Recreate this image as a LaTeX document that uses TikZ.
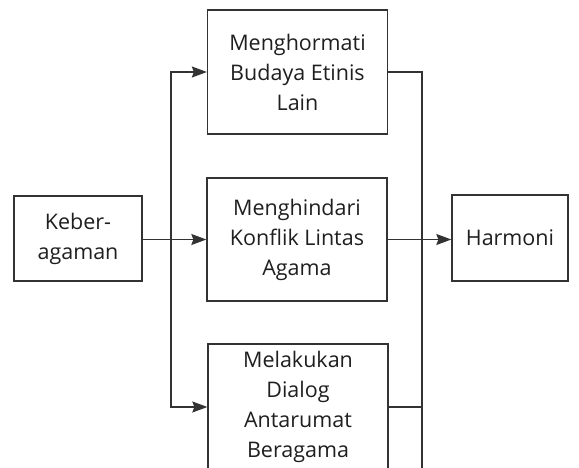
\documentclass[tikz,border=0pt]{standalone}
\usepackage{fontspec}
\setmainfont{Open Sans}
\usetikzlibrary{arrows.meta}
\begin{document}
\begin{tikzpicture}[x=1pt,y=-1pt,
  box/.style={draw=black!80, line width=1.3pt, fill=white, align=center, inner sep=0pt,
    font=\fontsize{21.5}{30}\selectfont, text=black!88},
  conn/.style={draw=black!80, line width=1.3pt},
  arr/.style={conn, -{Stealth[length=15pt,width=11pt,inset=2pt]}}]
\useasboundingbox (0,0) rectangle (579,468);
\clip (0,0) rectangle (579,468);
\node[box, minimum width=128pt, minimum height=85pt] (k) at (78,238.5) {Keber-\\agaman};
\node[box, minimum width=180pt, minimum height=124pt] (b1) at (297.5,72) {Menghormati\\Budaya Etinis\\Lain};
\node[box, minimum width=180pt, minimum height=123pt] (b2) at (297,239.5) {Menghindari\\Konflik Lintas\\Agama};
\node[box, minimum width=180pt, minimum height=126pt] (b3) at (298,407) {Melakukan\\Dialog\\Antarumat\\Beragama};
\node[box, minimum width=116pt, minimum height=86pt] (h) at (510,238) {Harmoni};
\coordinate (jl) at (171,239.5);
\coordinate (jr) at (422,480);
\draw[arr] (k.east |- jl) -- (b2.west);
\draw[arr] (jl) |- (b1.west);
\draw[arr] (jl) |- (b3.west);
\draw[conn] (b1.east) -| (jr);
\draw[conn] (b3.east) -- (b3.east -| jr);
\draw[arr] (b2.east) -- (h.west |- b2.east);
\end{tikzpicture}
\end{document}
